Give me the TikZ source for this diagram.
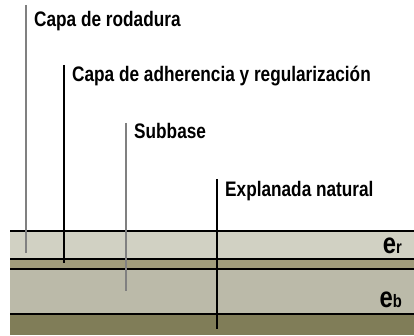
\documentclass[tikz,border=0pt]{standalone}
\usepackage{fontspec}
\setmainfont{Liberation Sans}
\newfontfamily\tagfont[FakeStretch=0.82]{Liberation Sans}
\usetikzlibrary{calc}
\definecolor{rodadura}{RGB}{209,209,195}
\definecolor{adherencia}{RGB}{160,156,123}
\definecolor{subbase}{RGB}{187,186,169}
\definecolor{explanada}{RGB}{128,125,88}
\definecolor{leadergray}{RGB}{128,128,128}
\tikzstyle{border}=[draw,black,line width=1.6pt]
\tikzstyle{leader}=[draw,line width=1.1pt]
\tikzstyle{tag}=[anchor=base west,inner sep=0pt,font=\tagfont\bfseries\fontsize{21}{24}\selectfont]
\tikzstyle{thickness}=[anchor=base east,inner sep=0pt,font=\tagfont\bfseries]

\begin{document}
\begin{tikzpicture}[x=1pt,y=-1pt]
    \useasboundingbox (0,0) rectangle (414,336);

    % layers
    \fill[rodadura]   (10,231) rectangle (414,259);
    \fill[adherencia] (10,259) rectangle (414,269);
    \fill[subbase]    (10,269) rectangle (414,314);
    \fill[explanada]  (10,314) rectangle (414,335);
    \foreach \y in {231,259,269,314}
        \path[border] (10,\y) -- (414,\y);

    % leader lines and labels
    \foreach \x/\top/\base/\bot/\col/\name/\txt in {
        26/5/27/253/leadergray/rodadura/{Capa de rodadura},
        64/65/82/263/black/adherencia/{Capa de adherencia y regularización},
        126/123/139/291/leadergray/subbase/{Subbase},
        217/179/197/329/black/explanada/{Explanada natural}}
    {
        \coordinate (\name top) at (\x,\top);
        \coordinate (\name bot) at (\x,\bot);
        \path[leader,\col] (\name top) -- (\name bot);
        \node[tag] (\name) at (\x+8,\base) {\txt};
    }

    \node[thickness] (er) at (402,253) {{\fontsize{29}{29}\selectfont e}{\fontsize{18}{18}\selectfont r}};
    \node[thickness] (eb) at (402,307) {{\fontsize{29}{29}\selectfont e}{\fontsize{18}{18}\selectfont b}};
\end{tikzpicture}
\end{document}
